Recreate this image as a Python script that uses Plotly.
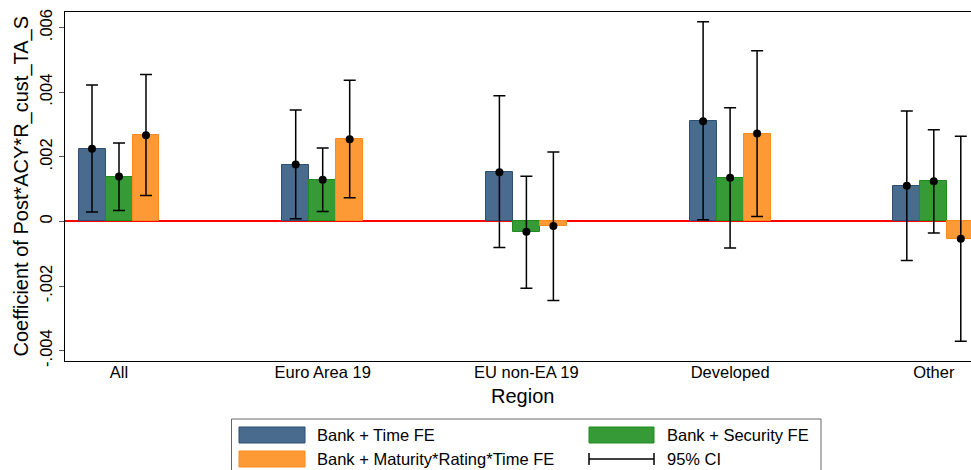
import plotly.graph_objects as go

# ---- data ----
regions = ["All", "Euro Area 19", "EU non-EA 19", "Developed", "Other"]
series_names = ["Bank + Time FE", "Bank + Security FE", "Bank + Maturity*Rating*Time FE"]

est_time = [0.00225, 0.00176, 0.00152, 0.00310, 0.00110]
lo_time = [0.00029, 0.00008, -0.00081, 0.00005, -0.00121]
hi_time = [0.00422, 0.00345, 0.00389, 0.00618, 0.00342]

est_sec = [0.00139, 0.00129, -0.00032, 0.00135, 0.00124]
lo_sec = [0.00034, 0.00031, -0.00207, -0.00082, -0.00036]
hi_sec = [0.00243, 0.00227, 0.00140, 0.00352, 0.00284]

est_mat = [0.00267, 0.00254, -0.00014, 0.00272, -0.00054]
lo_mat = [0.00080, 0.00073, -0.00245, 0.00015, -0.00371]
hi_mat = [0.00455, 0.00437, 0.00215, 0.00528, 0.00264]

ytick_vals = [-0.004, -0.002, 0, 0.002, 0.004, 0.006]
ytick_text = ["-.004", "-.002", "0", ".002", ".004", ".006"]

fills = ["#486b8e", "#369a36", "#fe9a36"]
edges = ["#2c4f72", "#1f8b1f", "#fb8a1c"]

FONT = "Liberation Sans, Arial, sans-serif"
W, H = 971, 470
ML, MR, MT, MB = 65, 0, 12, 109
PW = W - ML - MR
PH = H - MT - MB

def px(xp):
    return (xp - ML) / PW

def py(yp):
    return (H - MB - yp) / PH

bar_w = 0.1325
offsets = [-bar_w, 0.0, bar_w]
ests = [est_time, est_sec, est_mat]
los = [lo_time, lo_sec, lo_mat]
his = [hi_time, hi_sec, hi_mat]

fig = go.Figure()
for j in range(3):
    xs = [i + offsets[j] for i in range(len(regions))]
    fig.add_trace(go.Bar(
        x=xs, y=ests[j], width=bar_w, name=series_names[j],
        marker=dict(color=fills[j], line=dict(color=edges[j], width=1)),
        showlegend=False,
    ))
for j in range(3):
    xs = [i + offsets[j] for i in range(len(regions))]
    fig.add_trace(go.Scatter(
        x=xs, y=ests[j], mode="markers",
        marker=dict(color="black", size=8),
        error_y=dict(type="data", symmetric=False,
                     array=[h - e for h, e in zip(his[j], ests[j])],
                     arrayminus=[e - l for e, l in zip(ests[j], los[j])],
                     color="black", thickness=1.5, width=6),
        showlegend=False,
    ))

fig.update_layout(
    width=W, height=H,
    margin=dict(l=ML, r=MR, t=MT, b=MB),
    paper_bgcolor="white", plot_bgcolor="white",
    font=dict(family=FONT, size=16.5, color="black"),
    bargap=0, barmode="overlay",
    xaxis=dict(
        range=[(ML - 119) / 203.7, (W - 119) / 203.7],
        tickmode="array", tickvals=list(range(len(regions))), ticktext=regions,
        ticks="", showgrid=False, zeroline=False,
        showline=True, linecolor="black", linewidth=1.3, mirror=True,
        tickfont=dict(size=16.5), ticklabelstandoff=-4,
    ),
    yaxis=dict(
        range=[-0.004322, 0.006483],
        tickmode="array", tickvals=ytick_vals, ticktext=ytick_text,
        tickangle=-90, ticks="outside", ticklen=5, tickcolor="#555", tickwidth=1,
        showgrid=False, zeroline=True, zerolinecolor="#ff0000", zerolinewidth=1.5,
        showline=True, linecolor="black", linewidth=1.3,
        tickfont=dict(size=16.5),
    ),
)

annotations = [
    dict(text="Coefficient of Post*ACY*R_cust_TA_S", xref="paper", yref="paper",
         x=px(21), y=0.5, xanchor="center", yanchor="middle", textangle=-90,
         showarrow=False, font=dict(size=20)),
    dict(text="Region", xref="paper", yref="paper", x=px(522), y=py(396),
         xanchor="center", yanchor="middle", showarrow=False, font=dict(size=20)),
    dict(text=series_names[0], xref="paper", yref="paper", x=px(315), y=py(435),
         xanchor="left", yanchor="middle", showarrow=False),
    dict(text=series_names[1], xref="paper", yref="paper", x=px(665), y=py(435),
         xanchor="left", yanchor="middle", showarrow=False),
    dict(text=series_names[2], xref="paper", yref="paper", x=px(315), y=py(459),
         xanchor="left", yanchor="middle", showarrow=False),
    dict(text="95% CI", xref="paper", yref="paper", x=px(665), y=py(459),
         xanchor="left", yanchor="middle", showarrow=False),
]

shapes = [
    # legend box
    dict(type="rect", xref="paper", yref="paper", x0=px(231.5), x1=px(821),
         y0=py(419), y1=py(480), line=dict(color="#666", width=1), fillcolor="white", layer="below"),
    dict(type="rect", xref="paper", yref="paper", x0=px(239), x1=px(305), y0=py(427), y1=py(443),
         fillcolor=fills[0], line=dict(color=edges[0], width=1)),
    dict(type="rect", xref="paper", yref="paper", x0=px(589), x1=px(654), y0=py(427), y1=py(443),
         fillcolor=fills[1], line=dict(color=edges[1], width=1)),
    dict(type="rect", xref="paper", yref="paper", x0=px(239), x1=px(305), y0=py(451), y1=py(467),
         fillcolor=fills[2], line=dict(color=edges[2], width=1)),
    dict(type="line", xref="paper", yref="paper", x0=px(589), x1=px(654), y0=py(459), y1=py(459),
         line=dict(color="black", width=1.5)),
    dict(type="line", xref="paper", yref="paper", x0=px(589), x1=px(589), y0=py(453), y1=py(465),
         line=dict(color="black", width=1.5)),
    dict(type="line", xref="paper", yref="paper", x0=px(654), x1=px(654), y0=py(453), y1=py(465),
         line=dict(color="black", width=1.5)),
]

fig.update_layout(annotations=annotations, shapes=shapes)
fig.write_html(
    "out.html",
    config={"displayModeBar": False},
    post_script="document.body.style.margin='0';document.body.style.padding='0';"
                "document.body.style.overflow='hidden';"
                "document.documentElement.style.overflow='hidden';",
)
